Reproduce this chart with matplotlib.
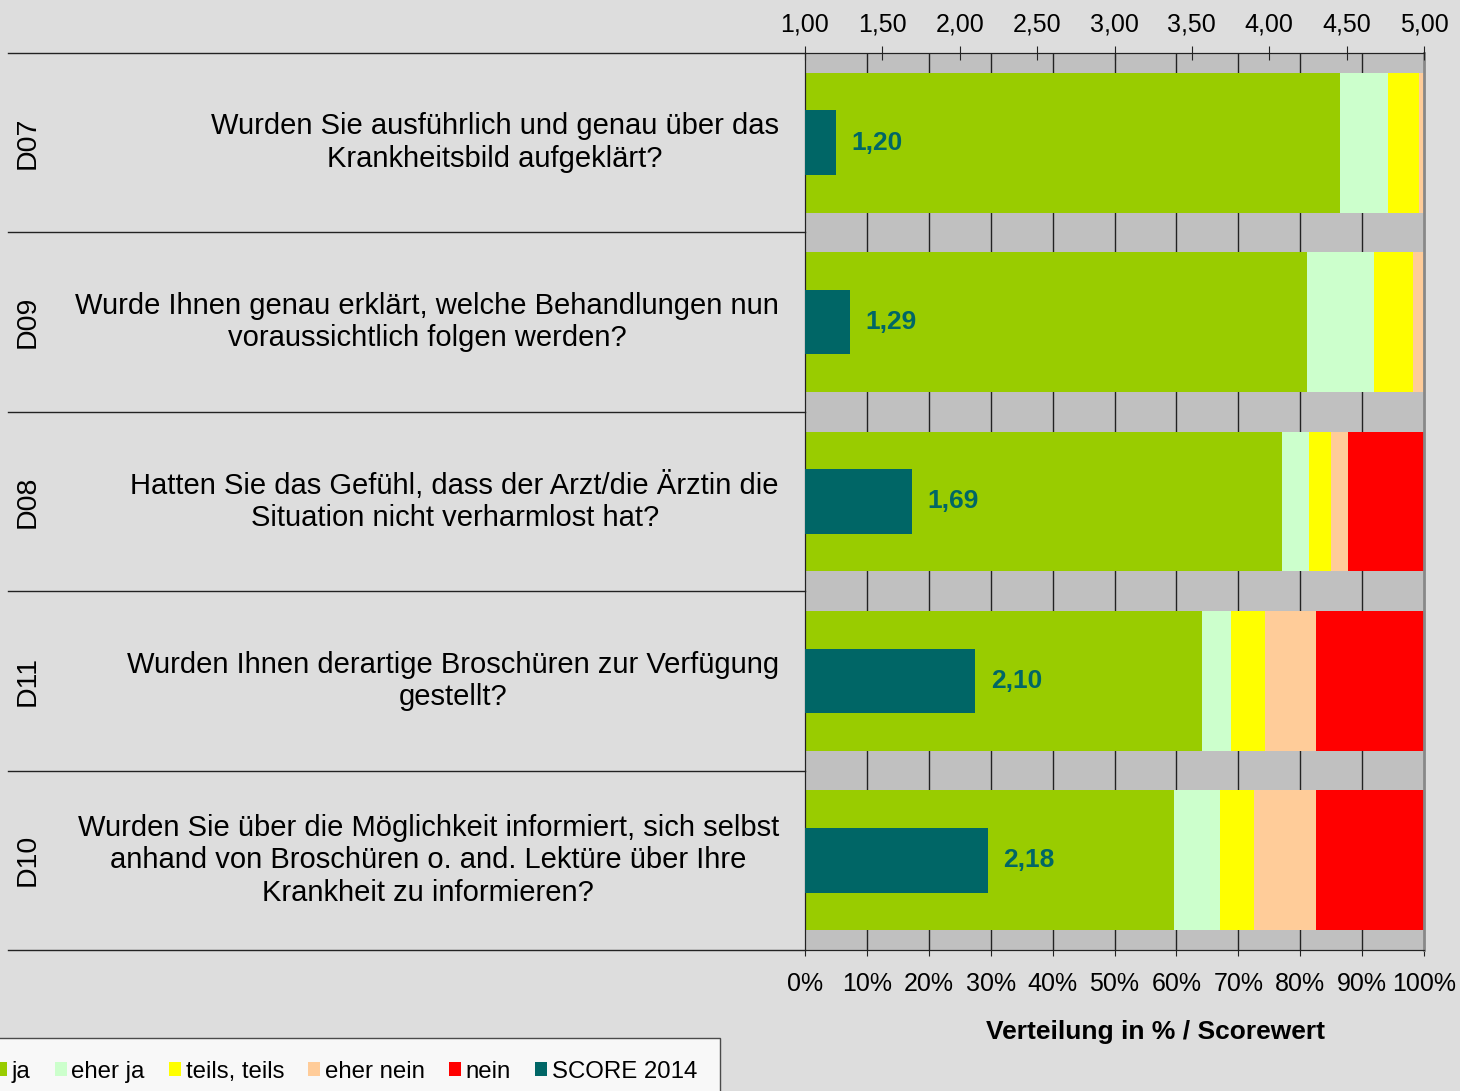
"""Stacked answer distribution with score bars (patient information questions)."""

import matplotlib

matplotlib.use("Agg")

import matplotlib.pyplot as plt
from matplotlib.patches import Patch

plt.rcParams["font.family"] = ["Liberation Sans", "DejaVu Sans"]

codes = ["D07", "D09", "D08", "D11", "D10"]
questions = [
    "Wurden Sie ausführlich und genau über das\nKrankheitsbild aufgeklärt?",
    "Wurde Ihnen genau erklärt, welche Behandlungen nun\nvoraussichtlich folgen werden?",
    "Hatten Sie das Gefühl, dass der Arzt/die Ärztin die\nSituation nicht verharmlost hat?",
    "Wurden Ihnen derartige Broschüren zur Verfügung\ngestellt?",
    "Wurden Sie über die Möglichkeit informiert, sich selbst\nanhand von Broschüren o. and. Lektüre über Ihre\nKrankheit zu informieren?",
]
ja = [86.4, 81.1, 77.1, 64.2, 59.6]
eher_ja = [7.8, 10.8, 4.4, 4.7, 7.4]
teils = [5.0, 6.4, 3.5, 5.4, 5.5]
eher_nein = [0.8, 1.7, 2.7, 8.3, 10.1]
nein = [0.0, 0.0, 12.3, 17.4, 17.4]
scores = [1.20, 1.29, 1.69, 2.10, 2.18]

series_names = ["ja", "eher ja", "teils, teils", "eher nein", "nein"]
series_colors = ["#99CC00", "#CCFFCC", "#FFFF00", "#FFCC99", "#FF0000"]
score_color = "#006666"
score_name = "SCORE 2014"

pct_ticks = list(range(0, 101, 10))
score_ticks = [1.0, 1.5, 2.0, 2.5, 3.0, 3.5, 4.0, 4.5, 5.0]

W, H = 1460, 1091
fig = plt.figure(figsize=(W / 100, H / 100), dpi=100, facecolor="#DDDDDD")
ax = fig.add_axes([805 / W, 1 - 950 / H, (1424 - 805) / W, (950 - 53) / H])
ax.set_facecolor("#C0C0C0")

rows = list(range(len(codes)))
ax.set_ylim(len(codes) - 0.5, -0.5)
ax.set_xlim(0, 100)

# vertical grid behind bars
for t in pct_ticks[1:-1]:
    ax.axvline(t, color="#222222", lw=1.0, zorder=1)

left = [0.0] * len(codes)
for vals, color in zip([ja, eher_ja, teils, eher_nein, nein], series_colors):
    ax.barh(rows, vals, left=left, height=0.78, color=color, zorder=2, linewidth=0)
    left = [l + v for l, v in zip(left, vals)]

ax.set_yticks([])
ax.set_xticks(pct_ticks)
ax.set_xticklabels([f"{t}%" for t in pct_ticks], fontsize=18)
ax.tick_params(axis="x", length=4, pad=12, color="#222222")
for side in ["left", "bottom", "top"]:
    ax.spines[side].set_color("#222222")
ax.spines["right"].set_color("#888888")
ax.spines["right"].set_linewidth(2)

# score bars on the secondary axis
ax2 = ax.twiny()
ax2.set_xlim(1, 5)
ax2.set_ylim(len(codes) - 0.5, -0.5)
ax2.barh(rows, [s - 1 for s in scores], left=1, height=0.36, color=score_color,
         zorder=3, linewidth=0)
for r, s in zip(rows, scores):
    ax2.text(s + 0.1, r, f"{s:.2f}".replace(".", ","), color=score_color,
             fontsize=19, fontweight="bold", va="center", ha="left")
ax2.set_xticks(score_ticks)
ax2.set_xticklabels([f"{t:.2f}".replace(".", ",") for t in score_ticks], fontsize=18)
ax2.tick_params(axis="x", direction="inout", length=10, pad=7, color="#222222")
for side in ["left", "bottom", "top"]:
    ax2.spines[side].set_color("#222222")
ax2.spines["right"].set_visible(False)

# category table on the left
ytr = ax.get_yaxis_transform()
for b in [r - 0.5 for r in rows] + [len(codes) - 0.5]:
    ax.plot([(8 - 805) / 619, 0], [b, b], transform=ytr, color="#222222",
            lw=1.0, clip_on=False)
for r, code, q in zip(rows, codes, questions):
    ax.text((28 - 805) / 619, r, code, transform=ytr, rotation=90, ha="center",
            va="center", fontsize=20.5)
    ax.text((779 - 805) / 619, r, q, transform=ytr, ha="right", va="center",
            multialignment="center", fontsize=21, linespacing=1.2)

fig.text(1155 / W, 1 - 1032 / H, "Verteilung in % / Scorewert", fontsize=19,
         fontweight="bold", ha="center", va="center")

handles = [Patch(facecolor=c, edgecolor="none", label=n)
           for n, c in zip(series_names, series_colors)]
handles.append(Patch(facecolor=score_color, edgecolor="none", label=score_name))
leg = fig.legend(handles=handles, loc="upper right", ncol=6,
                 bbox_to_anchor=(720 / W, 1 - 1038 / H), fontsize=17.3,
                 frameon=True, fancybox=False, handlelength=0.5, handleheight=0.5,
                 handletextpad=0.2, columnspacing=1.0, borderpad=0.95,
                 borderaxespad=0)
leg.get_frame().set_edgecolor("#222222")
leg.get_frame().set_facecolor("white")
leg.get_frame().set_linewidth(1.0)

fig.savefig("out.png", dpi=100, facecolor=fig.get_facecolor())
